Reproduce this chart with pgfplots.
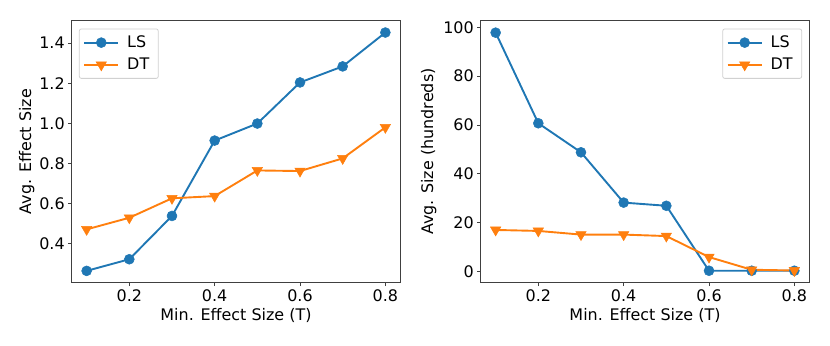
\documentclass[border=0pt]{standalone}
\usepackage{fontspec}
\setmainfont{DejaVu Sans}
\usepackage{pgfplots}
\pgfplotsset{compat=1.18}
\definecolor{cA}{HTML}{1F77B4}
\definecolor{cB}{HTML}{FF7F0E}
\pgfplotsset{
  myax/.style={
    scale only axis, width=328.6bp, height=262bp, anchor=south west,
    xmin=0.065, xmax=0.835,
    xtick={0.2,0.4,0.6,0.8},
    xticklabel style={/pgf/number format/fixed,/pgf/number format/precision=1,/pgf/number format/fixed zerofill},
    /pgf/number format/assume math mode=true,
    tick align=outside, tick pos=left,
    major tick length=3.5bp,
    axis line style={black!75, line width=0.8bp},
    every tick/.style={black!75, line width=0.8bp},
    tick label style={font=\fontsize{16}{19}\selectfont},
    label style={font=\fontsize{16}{19}\selectfont},
    xlabel={Min. Effect Size (T)},
    xlabel style={yshift=0bp},
    legend style={font=\fontsize{16}{19}\selectfont, draw=black!18, rounded corners=2bp, line width=0.8bp, inner xsep=4bp, inner ysep=5bp, row sep=5bp, column sep=3bp, cells={anchor=west}, nodes={inner xsep=5bp, inner ysep=2bp}},
    legend image code/.code={\draw[mark repeat=2,mark phase=2,#1] plot coordinates {(0bp,0bp) (17bp,0bp) (34bp,0bp)};},
  },
  lsstyle/.style={color=cA, line width=1.9bp, mark=*, mark size=5bp, mark options={fill=cA, draw=cA, line width=0.5bp}},
  dtstyle/.style={color=cB, line width=1.9bp, mark=triangle*, mark size=6bp, mark options={fill=cB, draw=cB, rotate=180, line width=0.5bp}},
}
\begin{document}
\begin{tikzpicture}
\useasboundingbox (0,0) rectangle (830bp,346bp);
\begin{axis}[myax, at={(71.7bp,63.3bp)},
  ymin=0.205, ymax=1.512,
  ytick={0.4,0.6,0.8,1.0,1.2,1.4},
  yticklabel style={/pgf/number format/fixed,/pgf/number format/precision=1,/pgf/number format/fixed zerofill},
  ylabel={Avg. Effect Size},
  ylabel style={yshift=-2bp},
  legend style={at={(0.022,0.97)}, anchor=north west},
]
\addplot[lsstyle] coordinates {(0.1,0.264)(0.2,0.322)(0.3,0.538)(0.4,0.914)(0.5,0.999)(0.6,1.204)(0.7,1.284)(0.8,1.453)};
\addlegendentry{LS}
\addplot[dtstyle] coordinates {(0.1,0.471)(0.2,0.529)(0.3,0.626)(0.4,0.637)(0.5,0.765)(0.6,0.762)(0.7,0.825)(0.8,0.980)};
\addlegendentry{DT}
\end{axis}
\begin{axis}[myax, at={(480.7bp,63.3bp)},
  ymin=-4.6, ymax=102.7,
  ytick={0,20,40,60,80,100},
  ylabel={Avg. Size (hundreds)},
  legend style={at={(0.978,0.97)}, anchor=north east},
]
\addplot[lsstyle] coordinates {(0.1,97.8)(0.2,60.7)(0.3,48.8)(0.4,28.2)(0.5,26.9)(0.6,0.3)(0.7,0.3)(0.8,0.3)};
\addlegendentry{LS}
\addplot[dtstyle] coordinates {(0.1,17.0)(0.2,16.6)(0.3,15.1)(0.4,15.1)(0.5,14.5)(0.6,5.9)(0.7,0.7)(0.8,0.4)};
\addlegendentry{DT}
\end{axis}
\end{tikzpicture}
\end{document}
